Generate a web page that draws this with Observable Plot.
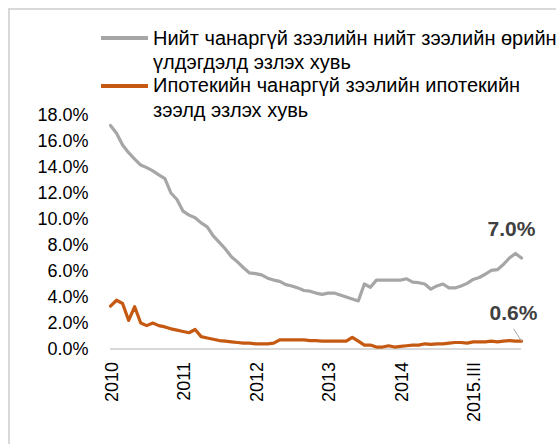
<!DOCTYPE html>
<html><head><meta charset="utf-8">
<script src="https://cdn.jsdelivr.net/npm/d3@7"></script>
<script src="https://cdn.jsdelivr.net/npm/@observablehq/plot@0.6"></script>
<style>
html,body{margin:0;padding:0;background:#fff;width:556px;height:444px;overflow:hidden;}
#wrap{position:relative;width:556px;height:444px;font-family:Arial,"Liberation Sans",sans-serif;overflow:hidden;}
#frame{position:absolute;left:8px;top:8px;width:620px;height:520px;border:2px solid #d9d9d9;box-sizing:border-box;}
#chart{position:absolute;left:0;top:0;}
.leg{position:absolute;left:101px;font-size:20px;line-height:24.5px;color:#000;white-space:nowrap;}
.leg .sw{position:absolute;left:0;top:10.5px;width:47px;height:4px;}
.leg .tx{position:absolute;left:52px;top:0;}
</style></head>
<body>
<div id="wrap">
  <div id="frame"></div>
  <div id="chart"></div>
  <div class="leg" style="top:25.5px"><div class="sw" style="background:#a6a6a6"></div><div class="tx" id="leg1"></div></div>
  <div class="leg" style="top:73px"><div class="sw" style="background:#c65911"></div><div class="tx" id="leg2"></div></div>
</div>
<script>
// Series names
const seriesNames = [
  ["Нийт чанаргүй зээлийн нийт зээлийн өрийн", "үлдэгдэлд эзлэх хувь"],
  ["Ипотекийн чанаргүй зээлийн ипотекийн", "зээлд эзлэх хувь"]
];
// X tick labels (monthly categories, label every 12th)
const xLabels = ["2010", "2011", "2012", "2013", "2014", "2015.III"];
const xTickIdx = [0, 12, 24, 36, 48, 60];
const yTicks = [0, 2, 4, 6, 8, 10, 12, 14, 16, 18];

// Total NPL share of total loan outstanding (%), monthly
const totalNPL = [
  17.2, 16.6, 15.7, 15.1, 14.6, 14.15, 13.95, 13.7, 13.4, 13.1,
  12.0, 11.5, 10.6, 10.3, 10.1, 9.7, 9.4, 8.7, 8.2, 7.7,
  7.1, 6.7, 6.25, 5.85, 5.8, 5.7, 5.45, 5.3, 5.2, 4.95,
  4.85, 4.7, 4.5, 4.45, 4.3, 4.2, 4.3, 4.3, 4.15, 4.0,
  3.85, 3.7, 5.0, 4.75, 5.3, 5.3, 5.3, 5.3, 5.3, 5.4,
  5.15, 5.1, 5.0, 4.6, 4.85, 5.0, 4.7, 4.7, 4.85, 5.05,
  5.35, 5.5, 5.75, 6.05, 6.1, 6.5, 7.0, 7.35, 7.0
];
// Mortgage NPL share of mortgage loans (%), monthly
const mortgageNPL = [
  3.3, 3.75, 3.5, 2.2, 3.25, 2.0, 1.8, 2.0, 1.8, 1.7,
  1.55, 1.45, 1.35, 1.25, 1.5, 0.95, 0.85, 0.75, 0.65, 0.6,
  0.55, 0.5, 0.45, 0.45, 0.4, 0.4, 0.4, 0.45, 0.7, 0.7,
  0.7, 0.7, 0.7, 0.65, 0.65, 0.6, 0.6, 0.6, 0.6, 0.6,
  0.9, 0.6, 0.3, 0.3, 0.15, 0.15, 0.25, 0.15, 0.2, 0.25,
  0.3, 0.3, 0.4, 0.35, 0.4, 0.4, 0.45, 0.5, 0.5, 0.45,
  0.55, 0.55, 0.55, 0.6, 0.55, 0.6, 0.65, 0.6, 0.6
];
const colors = ["#a6a6a6", "#c65911"];

document.getElementById("leg1").innerHTML = seriesNames[0].join("<br>");
document.getElementById("leg2").innerHTML = seriesNames[1].join("<br>");

const totalData = totalNPL.map((v, i) => ({i, v}));
const mortData = mortgageNPL.map((v, i) => ({i, v}));
const lastI = totalNPL.length - 1;
const lastT = {i: lastI, v: totalNPL[lastI]};
const lastM = {i: lastI, v: mortgageNPL[lastI]};

const chart = Plot.plot({
  width: 556,
  height: 444,
  marginLeft: 110,
  marginRight: 35,
  marginTop: 114.5,
  marginBottom: 95.5,
  style: {fontFamily: "Arial, 'Liberation Sans', sans-serif", fontSize: "18px", color: "#000", background: "transparent", overflow: "visible"},
  x: {domain: [0, lastI], axis: null, label: null},
  y: {domain: [0, 18], axis: null, label: null},
  marks: [
    Plot.axisY({ticks: yTicks, tickFormat: d => d.toFixed(1) + "%", tickSize: 0, tickPadding: 22, fontSize: 18, label: null, fill: "#000"}),
    Plot.axisX({ticks: xTickIdx, tickFormat: d => xLabels[xTickIdx.indexOf(d)], tickRotate: -90, tickSize: 0, tickPadding: 13, fontSize: 18, label: null, fill: "#000", dx: 1.5}),
    Plot.ruleY([0], {stroke: "#d9d9d9", strokeWidth: 2}),
    Plot.line(totalData, {x: "i", y: "v", stroke: colors[0], strokeWidth: 3.2, strokeLinejoin: "round"}),
    Plot.line(mortData, {x: "i", y: "v", stroke: colors[1], strokeWidth: 3.2, strokeLinejoin: "round"}),
    Plot.link([lastM], {x1: d => d.i - 1.3, y1: d => d.v + 0.95, x2: "i", y2: "v", stroke: "#a6a6a6", strokeWidth: 1}),
    Plot.text([lastT], {x: "i", y: "v", text: d => d.v.toFixed(1) + "%", dx: -10, dy: -29, fontSize: 21, fontWeight: "bold", fill: "#404040"}),
    Plot.text([lastM], {x: "i", y: "v", text: d => d.v.toFixed(1) + "%", dx: -8, dy: -28, fontSize: 21, fontWeight: "bold", fill: "#404040"})
  ]
});
document.getElementById("chart").appendChild(chart);
</script>
</body></html>
